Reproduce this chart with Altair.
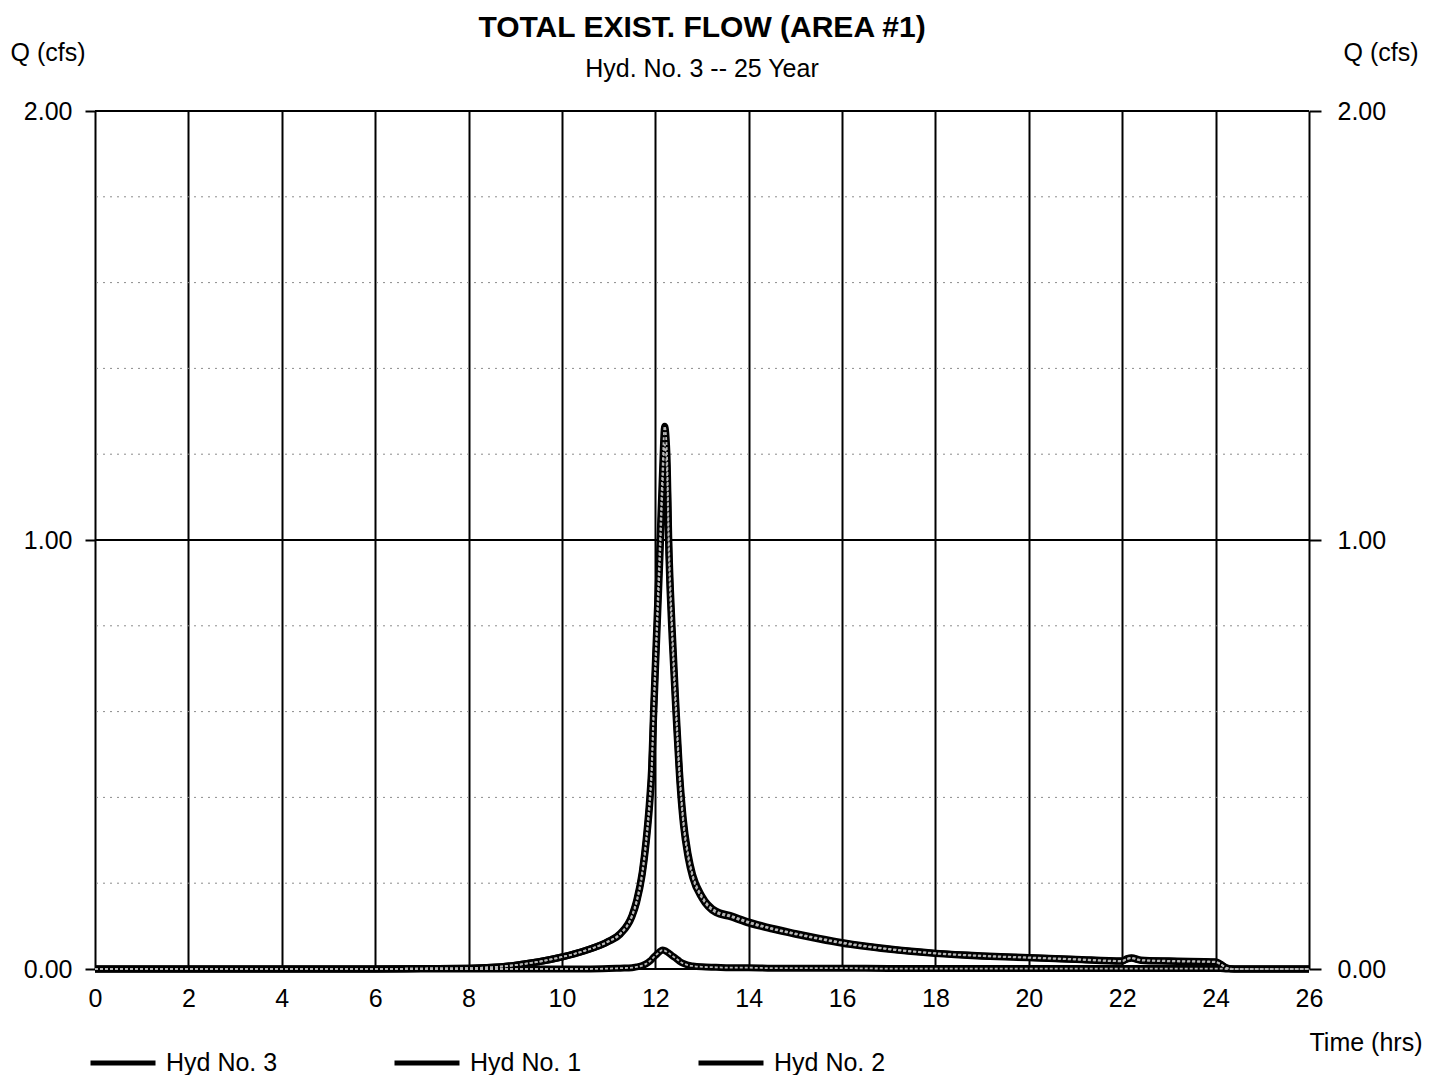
import altair as alt
import pandas as pd

# ---- data ----
hours = [0, 2, 4, 6, 7, 8, 8.5, 9, 9.5, 10, 10.5, 11, 11.25, 11.5, 11.6,
         11.72, 11.8, 11.88, 11.92, 11.96, 12.03, 12.1, 12.15, 12.2, 12.25,
         12.29, 12.36, 12.45, 12.52, 12.6, 12.7, 12.8, 13.0, 13.3, 13.6,
         14, 14.5, 15, 15.5, 16, 17, 18, 19, 20, 21,
         22, 22.1, 22.2, 22.4, 23, 24, 24.1, 24.25, 24.4, 25, 26]

hyd3 = [0, 0, 0, 0, 0.001, 0.002, 0.004, 0.009, 0.017, 0.028,
        0.043, 0.065, 0.083, 0.125, 0.16, 0.227, 0.30, 0.40, 0.47, 0.60,
        0.80, 1.00, 1.15, 1.265, 1.20, 1.00, 0.80, 0.60, 0.46, 0.35,
        0.27, 0.22, 0.17, 0.135, 0.125, 0.11, 0.095, 0.083, 0.072, 0.062,
        0.047, 0.037, 0.031, 0.027, 0.023, 0.019, 0.024, 0.026, 0.021, 0.019,
        0.017, 0.012, 0.002, 0, 0, 0]

hyd1 = [0, 0, 0, 0, 0.001, 0.002, 0.004, 0.009, 0.017, 0.028,
        0.043, 0.064, 0.081, 0.122, 0.155, 0.219, 0.288, 0.382, 0.448, 0.573,
        0.766, 0.959, 1.106, 1.222, 1.160, 0.963, 0.769, 0.576, 0.442, 0.337,
        0.261, 0.213, 0.165, 0.131, 0.122, 0.107, 0.093, 0.081, 0.070, 0.060,
        0.046, 0.036, 0.030, 0.026, 0.022, 0.018, 0.023, 0.025, 0.020, 0.018,
        0.016, 0.011, 0.002, 0, 0, 0]

hyd2 = [0, 0, 0, 0, 0, 0, 0, 0, 0, 0,
        0, 0.001, 0.002, 0.003, 0.005, 0.008, 0.012, 0.018, 0.022, 0.027,
        0.034, 0.041, 0.044, 0.043, 0.040, 0.037, 0.031, 0.024, 0.018, 0.013,
        0.009, 0.007, 0.005, 0.004, 0.003, 0.003, 0.002, 0.002, 0.002, 0.002,
        0.001, 0.001, 0.001, 0.001, 0.001, 0.001, 0.001, 0.001, 0.001, 0.001,
        0.001, 0.001, 0, 0, 0, 0]

series_names = ["Hyd No. 3", "Hyd No. 1", "Hyd No. 2"]
x_ticks = list(range(0, 27, 2))
major_q = [0, 1, 2]
minor_q = [0.2, 0.4, 0.6, 0.8, 1.2, 1.4, 1.6, 1.8]

FONT = "Liberation Sans"

rows = []
for name, vals in zip(series_names, [hyd3, hyd1, hyd2]):
    for t, q in zip(hours, vals):
        rows.append({"Series": name, "Time": t, "Q": q})
df = pd.DataFrame(rows)
df_minor = pd.DataFrame({"Q": minor_q})
df_major = pd.DataFrame({"Q": major_q})

xscale = alt.Scale(domain=[0, 26], nice=False)
yscale = alt.Scale(domain=[0, 2], nice=False)

minor = alt.Chart(df_minor).mark_rule(
    color="#8c8c8c", strokeWidth=1, strokeDash=[2, 5]
).encode(y=alt.Y("Q:Q", scale=yscale, axis=None))

major = alt.Chart(df_major).mark_rule(color="black", strokeWidth=2).encode(
    y=alt.Y("Q:Q", scale=yscale,
            axis=alt.Axis(orient="right", values=major_q, format=".2f",
                          title="Q (cfs)", titleAngle=0, titleX=34, titleY=-59,
                          titleAlign="left", titleBaseline="middle", labelFlush=False,
                          tickSize=12, labelPadding=16, grid=False, domain=False))
)

lines = alt.Chart(df).mark_line(strokeWidth=7, interpolate="monotone").encode(
    x=alt.X("Time:Q", scale=xscale,
            axis=alt.Axis(values=x_ticks, format="d", title="Time (hrs)",
                          titleX=1214, titleY=73, titleAlign="left",
                          titleBaseline="middle", grid=True, gridColor="black",
                          gridWidth=2, gridOpacity=1, ticks=False, labelFlush=False,
                          labelPadding=17, domain=False)),
    y=alt.Y("Q:Q", scale=yscale,
            axis=alt.Axis(orient="left", values=major_q, format=".2f",
                          title="Q (cfs)", titleAngle=0, titleX=-85, titleY=-59,
                          titleAlign="left", titleBaseline="middle", labelFlush=False,
                          tickSize=10, labelPadding=13, grid=False, domain=False)),
    color=alt.Color("Series:N",
                    scale=alt.Scale(domain=series_names,
                                    range=["black", "black", "black"]),
                    sort=series_names,
                    legend=alt.Legend(title=None, orient="none", direction="horizontal",
                                      legendX=-7, legendY=917, symbolType="stroke",
                                      symbolSize=4225, symbolStrokeWidth=5,
                                      labelFontSize=25, labelFont=FONT,
                                      labelOffset=8, columnPadding=106,
                                      padding=0, labelColor="black")),
    detail="Series:N",
)

inner = alt.Chart(df).mark_line(
    strokeWidth=1.8, color="#b8b8b8", strokeDash=[3, 2], interpolate="monotone"
).encode(
    x=alt.X("Time:Q", scale=xscale),
    y=alt.Y("Q:Q", scale=yscale, axis=None),
    detail="Series:N",
)

chart = alt.layer(minor, major, lines, inner).resolve_scale(y="independent").properties(
    width=1214,
    height=858,
    padding={"left": 87, "top": 103, "right": 120, "bottom": 106},
    autosize=alt.AutoSizeParams(type="none"),
    title=alt.Title("TOTAL EXIST. FLOW (AREA #1)", subtitle="Hyd. No. 3 -- 25 Year",
                    font=FONT, fontSize=30, fontWeight="bold", color="black",
                    subtitleFont=FONT, subtitleFontSize=25, subtitleColor="black",
                    subtitlePadding=14, anchor="middle", offset=-42),
).configure_axis(
    labelFont=FONT, labelFontSize=25, labelColor="black",
    titleFont=FONT, titleFontSize=25, titleFontWeight="normal", titleColor="black",
    tickColor="black", tickWidth=2,
).configure_view(stroke=None)

chart.save("out.html", embed_options={"renderer": "svg", "actions": False})
